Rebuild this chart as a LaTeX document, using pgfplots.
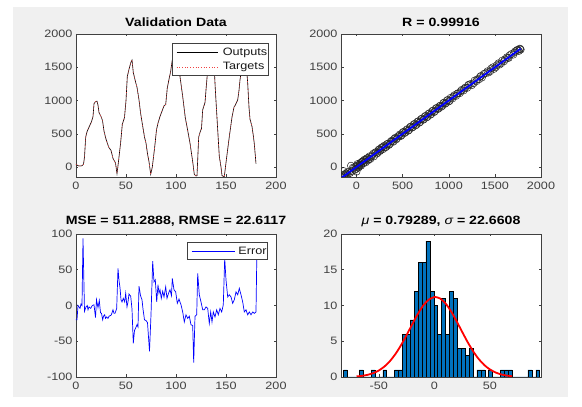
\documentclass[border=0pt]{standalone}
\usepackage{fontspec}
\setmainfont{Liberation Sans}[FakeStretch=1.18]
\usepackage{pgfplots}
\pgfplotsset{compat=1.18}
\definecolor{figbg}{HTML}{F0F0F0}
\definecolor{mblue}{HTML}{0072BD}
\definecolor{axcol}{HTML}{404040}
\definecolor{tgtred}{HTML}{F04040}

\tikzset{legtext/.style={anchor=west, inner sep=0pt, font=\fontsize{10.7}{12}\selectfont, text=black!90}}

\pgfplotsset{
  mystyle/.style={
    scale only axis, width=200pt, height=143pt, anchor=south west,
    axis line style={axcol, line width=0.5pt},
    every tick/.style={axcol, line width=0.5pt},
    tick align=inside, major tick length=2.5pt,
    ticklabel style={font=\fontsize{10.7}{12}\selectfont, text=axcol},
    xticklabel style={yshift=-1.5pt},
    /pgf/number format/assume math mode=true,
    /pgf/number format/1000 sep={},
    title style={font=\bfseries\fontsize{12}{14}\selectfont, yshift=-2pt},
    axis background/.style={fill=white},
  },
}

\pgfplotstableread{
x v
0 40
2 20
4 15
6 20
7.5 40
8.5 150
9.7 450
11 530
13 600
15.5 680
17 760
18 950
19.5 985
21 990
22 930
23 820
25 760
26.5 700
28 540
30 420
31.5 350
33 290
35 250
37 130
39.5 60
41 -100
42 20
43 150
44.7 375
46.3 640
48.5 745
50 1000
51.3 1360
53 1470
55 1580
56 1610
57.3 1420
59.7 1270
61 1200
63 1010
64.5 820
66.3 650
68.5 450
70 360
71.5 200
73 80
74.7 -110
76.3 0
78.7 300
80.5 560
82 660
84 760
86 840
88 920
89.7 940
91.3 1190
93 1320
94.7 1440
96.3 1610
98 1690
99.5 1760
101 1740
102.3 1520
104 1360
106.7 1060
108 900
109.3 740
111.7 550
114 360
116.7 80
118.3 -110
120 -135
121 -130
122.7 450
124 520
125.5 580
126.7 860
129 970
130.5 1250
131.7 1460
133 1690
134.5 1760
136 1700
138 1560
139.3 1170
141.7 560
143.3 160
145 0
146 -130
148.3 -145
150.7 150
153.3 455
156 750
158 900
159.3 930
161.7 1010
163 1150
164 1310
166 1510
167.5 1720
169 1780
170.5 1500
171.7 1260
173 900
174 720
176 610
177.5 450
178.3 350
180 50
}\valdata

\pgfplotstableread{
x e
0 -20
1 -20
2 0
3 -2
4 -4
5 2
6 0
7 94
8.5 -8
10 -2
11.3 0
12 -6
13 -2
14.7 -4
16.3 0
18 1
19.5 -17
20.5 8
22 -3
23.3 7
24.5 -10
25.5 -11
26.7 -20
27.5 -15
28.7 -13
29.5 -18
30.7 -16
32 -18
33 -15
34.5 -14
35.3 -13
37 -6
38 -11
39 -11
40.7 -4
42 52
43 35
44 25
45 8
46 5
47.3 10
48.7 5
49.7 17
51 -2
52 5
53 16
54.7 13
56 -5
57.3 -53
58.5 -35
59.5 -32
61 -27
62 -30
63 27
64.5 14
66 8
67 -5
68.5 -20
70 -21
71.5 -24
73.5 -64
75 -13
76.7 62
78 33
79.3 36
80.7 5
82 29
83 17
84 22
85.3 10
86.7 20
88 12
89.7 26
91 10
92.5 17
94 22
95.5 14
96.3 38
98 22
99.7 19
101.3 3
103 9
105 1
106.7 -9
108.3 -23
110 -13
111.7 -18
113.3 -15
115 -27
116.7 -28
117.7 -80
119 -15
120.7 -13
121.7 45
123.3 15
125 5
126.7 -6
128.3 -6
130 -2
131.7 -4
133.3 -25
134.7 -9
136 -23
137.3 -9
139 -16
140.7 -6
142.3 -13
144 -4
145.7 -9
147.3 1
148.7 66
150 36
151.7 12
153.3 15
155 12
156.7 3
158.3 8
160 19
161.7 15
163.3 24
165 15
166.7 5
168.3 -9
170 -6
171.7 -13
173.3 -9
175 -13
176.7 -9
178.3 -11
180 -9
181 86
}\errdata

\pgfplotstableread{
t o
-155 -150
-145 -165
-135 -120
-140 -60
-120 -130
-110 -95
-95 -110
-80 -70
-60 20
-50 -60
-30 -20
-20 -45
-10 10
0 -70
5 20
15 -10
20 30
30 15
40 60
50 20
60 80
75 55
85 110
100 70
110 130
125 100
140 160
150 120
170 175
190 160
200 215
220 200
240 260
255 240
270 290
290 270
300 320
320 300
340 350
360 345
380 395
400 380
420 440
440 430
460 470
480 465
500 520
520 510
540 555
560 545
580 600
600 590
620 640
640 625
660 680
680 665
700 720
720 710
740 760
760 745
780 800
800 785
820 840
840 825
860 880
880 870
900 915
920 905
940 960
960 950
980 1000
1000 985
1020 1040
1040 1030
1060 1080
1080 1070
1100 1110
1120 1110
1140 1160
1160 1150
1180 1195
1200 1190
1220 1240
1250 1230
1280 1300
1310 1320
1340 1360
1360 1345
1400 1410
1430 1420
1460 1480
1490 1475
1520 1530
1550 1540
1580 1600
1610 1620
1640 1640
1660 1680
1700 1690
1720 1740
1750 1760
1770 1780
1780 1765
-150 -140
-125 -105
-100 -80
-70 -90
-40 -10
-5 -30
10 45
25 -5
35 40
45 30
55 75
70 90
90 80
105 115
120 135
135 120
160 150
180 200
210 225
230 215
250 270
265 255
280 300
310 295
330 345
350 330
370 380
390 385
410 425
430 415
450 460
470 490
490 480
510 530
530 520
550 570
570 555
590 610
610 600
630 650
650 635
670 690
690 675
710 730
730 715
750 770
770 755
790 810
810 795
830 850
850 835
870 890
890 880
910 925
930 920
950 970
970 960
990 1010
1010 995
1050 1060
1090 1100
1130 1140
1170 1180
1210 1230
1240 1250
1270 1260
1300 1290
1330 1320
1350 1370
1380 1400
1420 1440
1450 1440
1480 1500
1510 1500
1540 1560
1570 1560
1600 1590
1630 1650
1650 1640
1680 1700
1710 1720
1740 1760
1760 1745
1775 1775
}\regdata

\pgfplotstableread{
edge count
-81.70 1
-78.17 0
-74.64 0
-71.11 0
-67.58 1
-64.05 0
-60.52 0
-56.99 1
-53.46 0
-49.93 0
-46.40 1
-42.87 0
-39.34 0
-35.81 1
-32.28 1
-28.75 6
-25.22 6
-21.69 8
-18.16 12
-14.63 16
-11.10 16
-7.57 19
-4.04 12
-0.51 10
3.02 6
6.55 11
10.08 6
13.61 12
17.14 11
20.67 4
24.20 4
27.73 3
31.26 4
34.79 0
38.32 1
41.85 1
45.38 0
48.91 1
52.44 0
55.97 0
59.50 1
63.03 1
66.56 1
70.09 0
73.62 0
77.15 0
80.68 0
84.21 1
87.74 0
91.27 1
94.80 1
}\histdata

\pgfplotstableread{
x f
-70 0.085
-65 0.165
-60 0.306
-55 0.540
-50 0.908
-45 1.453
-40 2.214
-35 3.215
-30 4.446
-25 5.856
-20 7.346
-15 8.778
-10 9.990
-5 10.831
0 11.183
0.79 11.19
5 10.999
10 10.303
15 9.193
20 7.813
25 6.324
30 4.876
35 3.580
40 2.504
45 1.668
50 1.059
55 0.640
60 0.368
65 0.202
70 0.106
}\normdata

\begin{document}
\begin{tikzpicture}[x=1pt,y=1pt]
\useasboundingbox (0,0) rectangle (582,407);
\fill[white] (0,0) rectangle (582,407);
\fill[figbg] (13,10) rectangle (568,400);

% Top left: validation data
\begin{axis}[mystyle, at={(76pt,230pt)},
  xmin=0, xmax=200, ymin=-150, ymax=2000,
  xtick={0,50,100,150,200}, ytick={0,500,1000,1500,2000},
  title={Validation Data}]
\addplot[draw=black, line width=0.6pt] table[x=x,y=v]{\valdata};
\addplot[draw=tgtred, dotted, line width=0.7pt] table[x=x,y=v]{\valdata};
% legend
\draw[axcol, line width=0.5pt, fill=white] (rel axis cs:0.4835,0.713) rectangle (rel axis cs:0.9615,0.935);
\draw[black, line width=0.6pt] (rel axis cs:0.5035,0.869) -- (rel axis cs:0.7115,0.869);
\node[legtext] at (rel axis cs:0.7335,0.869) {Outputs};
\draw[tgtred, dotted, line width=0.7pt] (rel axis cs:0.5035,0.767) -- (rel axis cs:0.7115,0.767);
\node[legtext] at (rel axis cs:0.7335,0.767) {Targets};
\end{axis}

% Top right: regression
\begin{axis}[mystyle, at={(341pt,230pt)},
  xmin=-168, xmax=2000, ymin=-150, ymax=2000,
  xtick={0,500,1000,1500,2000}, ytick={0,500,1000,1500,2000},
  clip marker paths=true,
  title={R = 0.99916}]
\addplot[only marks, mark=o, mark size=3.6pt, black!85, mark options={line width=0.5pt}] table[x=t,y=o]{\regdata};
\addplot[draw=blue, line width=1.8pt] coordinates {(-160,-160) (1780,1780)};
\end{axis}

% Bottom left: error
\begin{axis}[mystyle, at={(76pt,30pt)},
  xmin=0, xmax=200, ymin=-100, ymax=100,
  xtick={0,50,100,150,200}, ytick={-100,-50,0,50,100},
  title={MSE = 511.2888, RMSE = 22.6117}]
\addplot[draw=blue, line width=0.7pt] table[x=x,y=e]{\errdata};
% legend
\draw[axcol, line width=0.5pt, fill=white] (rel axis cs:0.5585,0.823) rectangle (rel axis cs:0.9585,0.939);
\draw[blue, line width=0.7pt] (rel axis cs:0.5785,0.881) -- (rel axis cs:0.795,0.881);
\node[legtext] at (rel axis cs:0.8115,0.881) {Error};
\end{axis}

% Bottom right: histogram
\begin{axis}[mystyle, at={(341pt,30pt)},
  xmin=-84, xmax=96, ymin=0, ymax=20,
  xtick={-50,0,50}, ytick={0,5,10,15,20},
  title={{\mdseries\itshape μ} = 0.79289, {\mdseries\itshape σ} = 22.6608}]
\addplot[ybar interval, fill=mblue, draw=black, line width=0.5pt] table[x=edge,y=count]{\histdata};
\addplot[draw=red, line width=1.8pt, smooth] table[x=x,y=f]{\normdata};
\end{axis}
\end{tikzpicture}
\end{document}
